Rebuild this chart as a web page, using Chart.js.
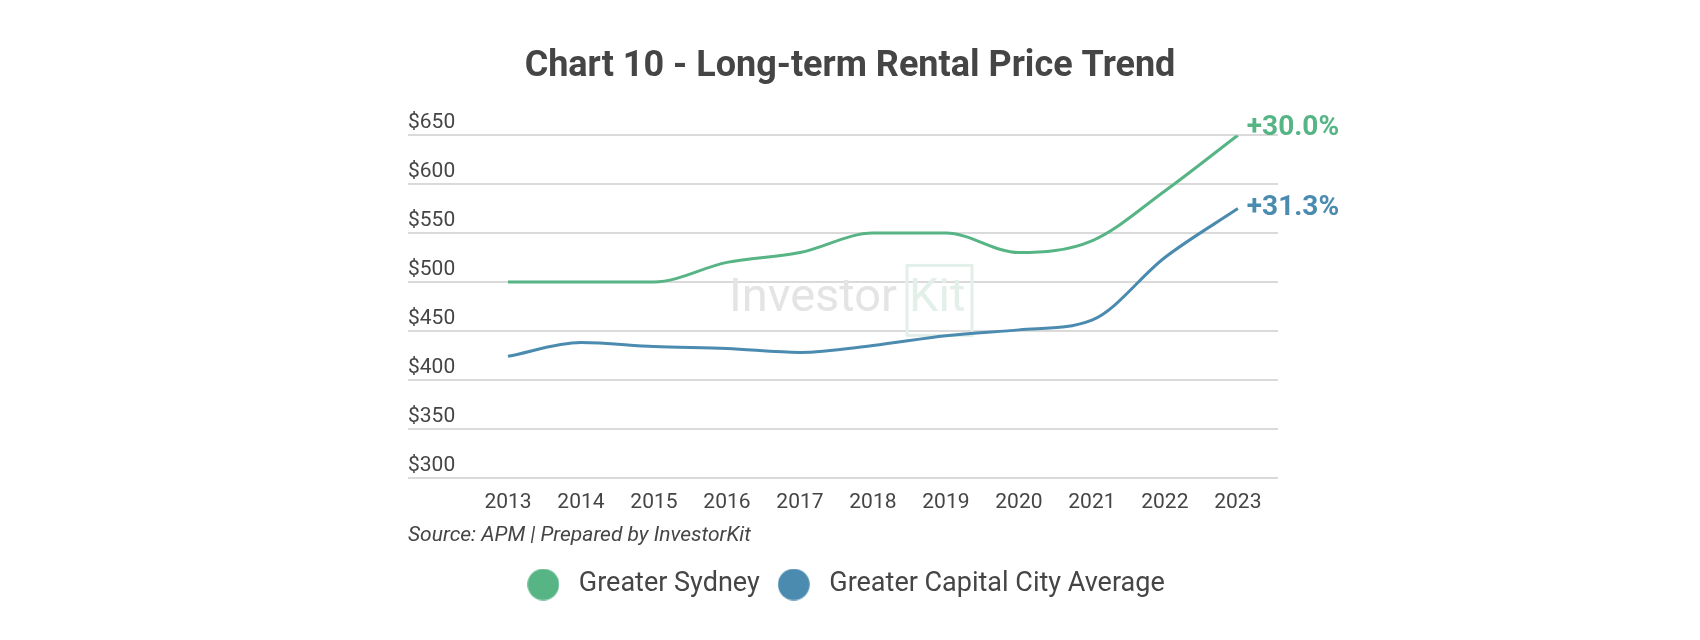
<!DOCTYPE html>
<html>
<head>
<meta charset="utf-8">
<script src="https://cdn.jsdelivr.net/npm/chart.js@4.4.0/dist/chart.umd.min.js"></script>
<style>
  html, body { margin: 0; padding: 0; background: #ffffff; }
  #wrap { width: 1700px; height: 640px; position: relative; }
</style>
</head>
<body>
<div id="wrap"><canvas id="c" width="1700" height="640"></canvas></div>
<script>
// ---- data ----
const years = [2013, 2014, 2015, 2016, 2017, 2018, 2019, 2020, 2021, 2022, 2023];
const sydney = [500, 500, 500, 520, 530, 550, 550, 530, 542, 593, 650];
const capitalAvg = [424, 438, 434, 432, 428, 435, 445, 451, 461, 525, 575];
const seriesNames = ['Greater Sydney', 'Greater Capital City Average'];
const growthLabels = ['+30.0%', '+31.3%'];
const yTicks = [300, 350, 400, 450, 500, 550, 600, 650];
const titleText = 'Chart 10 - Long-term Rental Price Trend';
const sourceText = 'Source: APM | Prepared by InvestorKit';

const GREEN = '#57b485';
const BLUE = '#4a8baf';
const TEXT = '#454545';
const FONT = 'Roboto';

function circleImg(color) {
  const c = document.createElement('canvas');
  c.width = 32; c.height = 32;
  const g = c.getContext('2d');
  g.fillStyle = color;
  g.beginPath();
  g.arc(16, 16, 15.8, 0, Math.PI * 2);
  g.fill();
  return c;
}

const watermark = {
  id: 'watermark',
  beforeDatasetsDraw(chart) {
    const {ctx, chartArea} = chart;
    const cx = (chartArea.left + chartArea.right) / 2 + 7;
    const cy = (chartArea.top + chartArea.bottom) / 2 - 7;
    ctx.save();
    ctx.font = '400 47px ' + FONT;
    ctx.textBaseline = 'middle';
    ctx.textAlign = 'right';
    ctx.fillStyle = '#e4e4e4';
    ctx.fillText('Investor', cx + 47, cy);
    ctx.strokeStyle = '#e3f0e9';
    ctx.lineWidth = 3;
    ctx.strokeRect(cx + 57, cy - 34, 65, 70);
    ctx.textAlign = 'left';
    ctx.fillStyle = '#e3f0e9';
    ctx.fillText('Kit', cx + 59, cy);
    ctx.restore();
  }
};

const endLabels = {
  id: 'endLabels',
  afterDatasetsDraw(chart) {
    const {ctx} = chart;
    const dy = [-7, -1];
    ctx.save();
    ctx.font = 'bold 28px ' + FONT;
    ctx.textAlign = 'left';
    ctx.textBaseline = 'middle';
    chart.data.datasets.forEach((ds, i) => {
      const meta = chart.getDatasetMeta(i);
      const pt = meta.data[meta.data.length - 1];
      ctx.fillStyle = ds.borderColor;
      ctx.fillText(growthLabels[i], pt.x + 9, pt.y + dy[i]);
    });
    ctx.restore();
  }
};

new Chart(document.getElementById('c'), {
  type: 'line',
  data: {
    datasets: [
      {
        label: seriesNames[0],
        data: years.map((y, i) => ({x: y, y: sydney[i]})),
        borderColor: GREEN,
        backgroundColor: GREEN,
        borderWidth: 3,
        pointRadius: 0,
        cubicInterpolationMode: 'monotone',
        fill: false
      },
      {
        label: seriesNames[1],
        data: years.map((y, i) => ({x: y, y: capitalAvg[i]})),
        borderColor: BLUE,
        backgroundColor: BLUE,
        borderWidth: 3,
        pointRadius: 0,
        cubicInterpolationMode: 'monotone',
        fill: false
      }
    ]
  },
  options: {
    responsive: false,
    animation: false,
    devicePixelRatio: 1,
    layout: { padding: { left: 0, right: 0, top: 0, bottom: 32 } },
    plugins: {
      tooltip: { enabled: false },
      title: {
        display: true,
        text: titleText,
        color: TEXT,
        font: { family: FONT, size: 36, weight: 'bold' },
        padding: { top: 45, bottom: 47 }
      },
      legend: {
        position: 'bottom',
        fullSize: false,
        labels: {
          usePointStyle: true,
          pointStyleWidth: 44,
          boxHeight: 22,
          padding: 12,
          color: TEXT,
          font: { family: FONT, size: 27 },
          generateLabels(chart) {
            return chart.data.datasets.map((ds, i) => ({
              text: ds.label,
              fillStyle: ds.borderColor,
              strokeStyle: ds.borderColor,
              lineWidth: 0,
              pointStyle: circleImg(ds.borderColor),
              fontColor: TEXT,
              hidden: false,
              datasetIndex: i
            }));
          }
        }
      }
    },
    scales: {
      x: {
        type: 'linear',
        min: 2011.63,
        max: 2023.55,
        grid: { display: false, drawTicks: false },
        border: { display: false },
        afterBuildTicks(scale) { scale.ticks = years.map(v => ({value: v})); },
        ticks: {
          padding: 13,
          color: TEXT,
          font: { family: FONT, size: 21 },
          callback: v => String(v),
          maxRotation: 0,
          autoSkip: false
        },
        title: {
          display: true,
          text: sourceText,
          align: 'start',
          color: TEXT,
          font: { family: FONT, size: 21, style: 'italic' },
          padding: { top: -6, bottom: 11 }
        }
      },
      y: {
        type: 'linear',
        position: 'left',
        min: 300,
        max: 650,
        afterBuildTicks(scale) { scale.ticks = yTicks.map(v => ({value: v})); },
        afterFit(scale) { scale.width = 408; },
        grid: { color: '#dadada', lineWidth: 2, drawTicks: false },
        border: { display: false },
        ticks: {
          mirror: true,
          padding: 0,
          labelOffset: -12,
          color: TEXT,
          font: { family: FONT, size: 21 },
          callback: v => '$' + v
        }
      },
      yR: {
        type: 'linear',
        position: 'right',
        display: true,
        grid: { display: false, drawTicks: false },
        border: { display: false },
        ticks: { display: false },
        afterFit(scale) { scale.width = 422; }
      }
    }
  },
  plugins: [watermark, endLabels]
});
</script>
</body>
</html>
